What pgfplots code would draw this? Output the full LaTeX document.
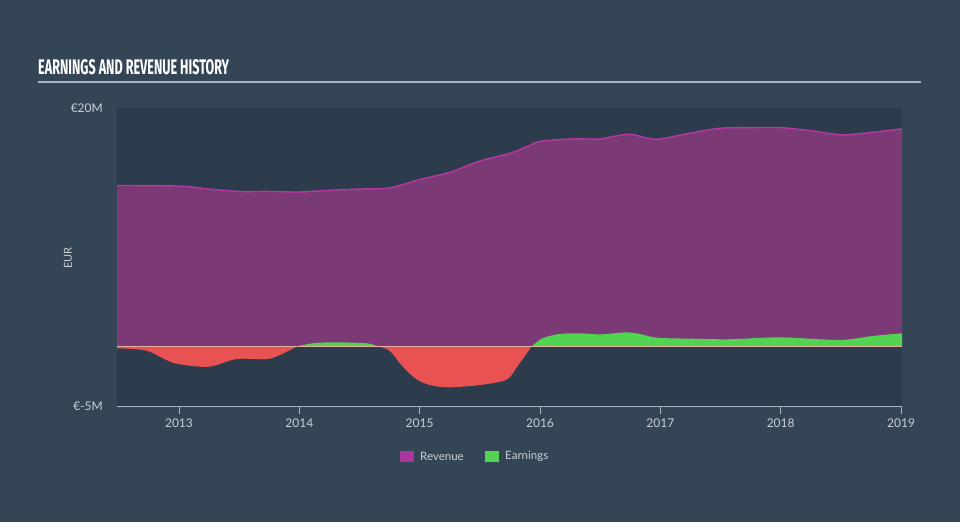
\documentclass[border=0pt]{standalone}
\usepackage{pgfplots}
\pgfplotsset{compat=1.18}
\usepackage{fontspec}
\usepackage{graphicx}
\setmainfont{Lato}
\newfontfamily\titlefont{Fira Sans}
\definecolor{bg}{HTML}{344556}
\definecolor{plotbg}{HTML}{2D3C4C}
\definecolor{revfill}{HTML}{7B3A76}
\definecolor{revline}{HTML}{B8389F}
\definecolor{earnpos}{HTML}{52D352}
\definecolor{earnneg}{HTML}{E85252}
\definecolor{zeroline}{HTML}{E2B09C}
\definecolor{axisline}{HTML}{A8B4C2}
\definecolor{labeltext}{HTML}{C8D0D8}
\definecolor{legrev}{HTML}{A9379B}
\begin{document}
\begin{tikzpicture}
\fill[bg] (0pt,0pt) rectangle (960pt,522pt);
\useasboundingbox (0pt,0pt) rectangle (960pt,522pt);
% title
\node[anchor=west,text=white,inner sep=0pt] at (38pt,455pt) {\resizebox{191pt}{15pt}{\titlefont\bfseries\fontsize{20}{21}\selectfont EARNINGS AND REVENUE HISTORY}};
\draw[axisline,line width=1.3pt] (38pt,440pt) -- (921pt,440pt);
% y axis label
\node[rotate=90,text=labeltext,font=\fontsize{11}{12}\selectfont] at (68pt,264pt) {EUR};
\begin{axis}[
  at={(117pt,116pt)}, anchor=south west,
  scale only axis, width=785pt, height=298pt,
  xmin=2012.485, xmax=2019.008, ymin=-5, ymax=20,
  axis background/.style={fill=plotbg},
  axis x line*=bottom, axis y line=none,
  x axis line style={axisline, line width=0.8pt, -},
  xtick={2013,2014,2015,2016,2017,2018,2019},
  xtick style={axisline, line width=0.8pt},
  major tick length=8pt, tick align=outside,
  /pgf/number format/1000 sep={},
  /pgf/number format/assume math mode=true,
  xticklabel style={text=labeltext, font=\fontsize{12}{13}\selectfont, yshift=-1pt},
  ytick=\empty,
  clip=true,
]
% revenue fill
\addplot[draw=none, fill=revfill, smooth, tension=0.5] coordinates {
(2012.485,13.5) (2013.0,13.45) (2013.25,13.2) (2013.5,13.0) (2013.75,13.0) (2014.0,12.95)
(2014.25,13.1) (2014.5,13.2) (2014.75,13.3) (2015.0,14.0) (2015.25,14.6) (2015.5,15.55)
(2015.75,16.2) (2015.9,16.8) (2016.0,17.2) (2016.25,17.4) (2016.5,17.4) (2016.6,17.6)
(2016.75,17.8) (2016.9,17.45) (2017.0,17.4) (2017.25,17.9) (2017.5,18.3) (2017.75,18.35)
(2018.0,18.35) (2018.25,18.1) (2018.5,17.75) (2018.75,17.95) (2019.008,18.25)} \closedcycle;
\addplot[revline, line width=1.4pt, smooth, tension=0.5] coordinates {
(2012.485,13.5) (2013.0,13.45) (2013.25,13.2) (2013.5,13.0) (2013.75,13.0) (2014.0,12.95)
(2014.25,13.1) (2014.5,13.2) (2014.75,13.3) (2015.0,14.0) (2015.25,14.6) (2015.5,15.55)
(2015.75,16.2) (2015.9,16.8) (2016.0,17.2) (2016.25,17.4) (2016.5,17.4) (2016.6,17.6)
(2016.75,17.8) (2016.9,17.45) (2017.0,17.4) (2017.25,17.9) (2017.5,18.3) (2017.75,18.35)
(2018.0,18.35) (2018.25,18.1) (2018.5,17.75) (2018.75,17.95) (2019.008,18.25)};
% earnings negative 1
\addplot[draw=none, fill=earnneg, smooth, tension=0.5] coordinates {
(2012.485,-0.16) (2012.73,-0.36) (2012.95,-1.37) (2013.17,-1.7) (2013.28,-1.65)
(2013.48,-1.06) (2013.73,-1.06) (2013.84,-0.72) (2013.98,0)} \closedcycle;
% earnings positive 1
\addplot[draw=none, fill=earnpos, smooth, tension=0.5] coordinates {
(2013.98,0) (2014.11,0.26) (2014.28,0.34) (2014.56,0.26) (2014.65,0)} \closedcycle;
% earnings negative 2
\addplot[draw=none, fill=earnneg, smooth, tension=0.5] coordinates {
(2014.65,0) (2014.75,-0.36) (2014.86,-1.7) (2014.98,-2.8) (2015.11,-3.3) (2015.25,-3.43)
(2015.5,-3.24) (2015.72,-2.8) (2015.81,-1.7) (2015.93,0)} \closedcycle;
% earnings positive 2
\addplot[draw=none, fill=earnpos, smooth, tension=0.5] coordinates {
(2015.93,0) (2016.02,0.68) (2016.16,1.04) (2016.33,1.1) (2016.5,1.01) (2016.72,1.18)
(2016.83,1.04) (2016.97,0.73) (2017.24,0.65) (2017.58,0.6) (2017.99,0.76) (2018.49,0.54)
(2018.76,0.87) (2019.008,1.1)} \closedcycle;
% zero line
\addplot[zeroline, line width=0.9pt] coordinates {(2012.485,0) (2019.008,0)};
\end{axis}
% y tick labels
\node[anchor=east,text=labeltext,font=\fontsize{12}{13}\selectfont,inner sep=0pt] at (103pt,414pt) {€20M};
\node[anchor=east,text=labeltext,font=\fontsize{12}{13}\selectfont,inner sep=0pt] at (103pt,116pt) {€-5M};
% legend
\fill[legrev] (400pt,60pt) rectangle (414pt,71pt);
\node[anchor=west,text=labeltext,font=\fontsize{11.5}{12}\selectfont,inner sep=0pt] at (420pt,65.5pt) {Revenue};
\fill[earnpos] (485pt,60pt) rectangle (499pt,71pt);
\node[anchor=west,text=labeltext,font=\fontsize{11.5}{12}\selectfont,inner sep=0pt] at (505pt,65.5pt) {Earnings};
\end{tikzpicture}
\end{document}
